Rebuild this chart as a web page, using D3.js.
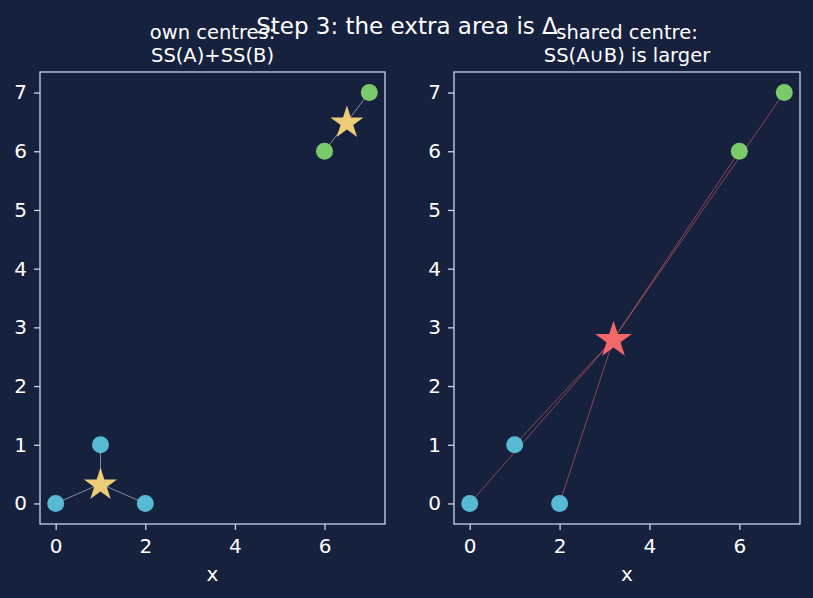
<!DOCTYPE html>
<html>
<head>
<meta charset="utf-8">
<script src="https://cdn.jsdelivr.net/npm/d3@7"></script>
<style>
  body { margin: 0; background: #16213e; }
  text { font-family: "DejaVu Sans", sans-serif; fill: #ffffff; }
</style>
</head>
<body>
<div id="chart"></div>
<script>
// cluster points
var clusterAx = [0, 1, 2];
var clusterAy = [0, 1, 0];
var clusterBx = [6, 7];
var clusterBy = [6, 7];
var xTicks = [0, 2, 4, 6];
var yTicks = [0, 1, 2, 3, 4, 5, 6, 7];
var panelTitles = [["own centres:", "SS(A)+SS(B)"], ["shared centre:", "SS(A\u222AB) is larger"]];
var mainTitle = "Step 3: the extra area is \u0394";

var W = 813, H = 598;
var bg = "#16213e", spine = "#ccd3e6";
var cA = "#5bc3dc", cB = "#80d46e", gold = "#f7d77a", red = "#ff6b6b";

function mean(a){ return d3.mean(a); }
var ptsA = clusterAx.map(function(x, i){ return [x, clusterAy[i]]; });
var ptsB = clusterBx.map(function(x, i){ return [x, clusterBy[i]]; });
var cenA = [mean(clusterAx), mean(clusterAy)];
var cenB = [mean(clusterBx), mean(clusterBy)];
var cenAll = [mean(clusterAx.concat(clusterBx)), mean(clusterAy.concat(clusterBy))];

var svg = d3.select("#chart").append("svg")
  .attr("width", W).attr("height", H);
svg.append("rect").attr("width", W).attr("height", H).attr("fill", bg);

var panels = [{left: 40, right: 385}, {left: 454, right: 800}];
var plotTop = 72, plotBottom = 524;
var star = d3.symbol().type(d3.symbolStar);

panels.forEach(function(p, k){
  var x = d3.scaleLinear().domain([-0.35, 7.35]).range([p.left, p.right]);
  var y = d3.scaleLinear().domain([-0.35, 7.35]).range([plotBottom, plotTop]);
  var g = svg.append("g");

  // axes
  var xa = g.append("g").attr("transform", "translate(0," + plotBottom + ")")
    .call(d3.axisBottom(x).tickValues(xTicks).tickSize(6).tickPadding(9).tickFormat(d3.format("d")));
  var ya = g.append("g").attr("transform", "translate(" + p.left + ",0)")
    .call(d3.axisLeft(y).tickValues(yTicks).tickSize(6).tickPadding(7).tickFormat(d3.format("d")));
  [xa, ya].forEach(function(a){
    a.select(".domain").remove();
    a.attr("font-size", null).attr("font-family", null);
    a.selectAll("line").attr("stroke", spine).attr("stroke-width", 1.3);
    a.selectAll("text").style("font-size", "20px").attr("fill", "#ffffff");
  });
  g.append("rect").attr("x", p.left).attr("y", plotTop)
    .attr("width", p.right - p.left).attr("height", plotBottom - plotTop)
    .attr("fill", "none").attr("stroke", spine).attr("stroke-width", 1.3);

  g.append("text").attr("x", (p.left + p.right) / 2).attr("y", 581)
    .attr("text-anchor", "middle").style("font-size", "20px").text("x");

  var tt = g.append("text").attr("x", (p.left + p.right) / 2).attr("text-anchor", "middle")
    .style("font-size", "19.5px");
  tt.append("tspan").attr("x", (p.left + p.right) / 2).attr("y", 39).text(panelTitles[k][0]);
  tt.append("tspan").attr("x", (p.left + p.right) / 2).attr("y", 62).text(panelTitles[k][1]);

  // links
  var links = [];
  if (k === 0) {
    ptsA.forEach(function(pt){ links.push([pt, cenA]); });
    ptsB.forEach(function(pt){ links.push([pt, cenB]); });
  } else {
    ptsA.concat(ptsB).forEach(function(pt){ links.push([pt, cenAll]); });
  }
  g.selectAll(".link").data(links).enter().append("line")
    .attr("x1", function(d){ return x(d[0][0]); })
    .attr("y1", function(d){ return y(d[0][1]); })
    .attr("x2", function(d){ return x(d[1][0]); })
    .attr("y2", function(d){ return y(d[1][1]); })
    .attr("stroke", k === 0 ? "#d0d4e0" : red)
    .attr("stroke-opacity", k === 0 ? 0.6 : 0.5)
    .attr("stroke-width", 1);

  // points
  g.selectAll(".pa").data(ptsA).enter().append("circle")
    .attr("cx", function(d){ return x(d[0]); }).attr("cy", function(d){ return y(d[1]); })
    .attr("r", 8.5).attr("fill", cA).attr("fill-opacity", 0.95);
  g.selectAll(".pb").data(ptsB).enter().append("circle")
    .attr("cx", function(d){ return x(d[0]); }).attr("cy", function(d){ return y(d[1]); })
    .attr("r", 8.5).attr("fill", cB).attr("fill-opacity", 0.95);

  // centres
  var cens = k === 0 ? [cenA, cenB] : [cenAll];
  g.selectAll(".cen").data(cens).enter().append("path")
    .attr("d", star.size(k === 0 ? 340 : 420))
    .attr("transform", function(d){ return "translate(" + x(d[0]) + "," + (y(d[1]) + 1) + ")"; })
    .attr("fill", k === 0 ? gold : red)
    .attr("fill-opacity", 0.95);
});

// main title drawn last so it sits over the panel titles, as in the reference
svg.append("text").attr("x", 407).attr("y", 34)
  .attr("text-anchor", "middle").style("font-size", "23px").text(mainTitle);
</script>
</body>
</html>
